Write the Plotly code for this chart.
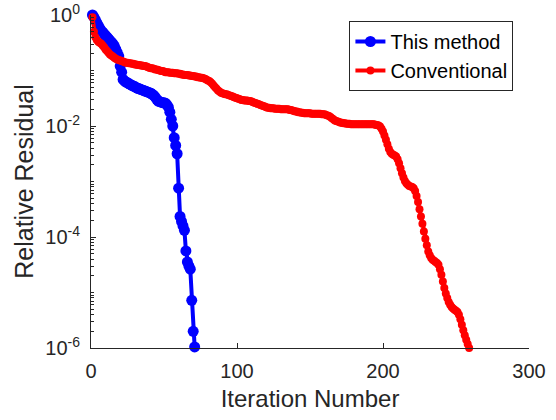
import plotly.graph_objects as go

# Relative residual per iteration as log10 exponents
this_method_log10 = [
    0.00, -0.04, -0.09, -0.14, -0.19, -0.24, -0.28, -0.31, -0.34, -0.37,
    -0.40, -0.43, -0.46, -0.49, -0.52, -0.56, -0.62, -0.68, -0.74, -0.92,
    -1.03, -1.16, -1.19, -1.21, -1.22, -1.24, -1.25, -1.27, -1.28, -1.29,
    -1.31, -1.32, -1.33, -1.34, -1.35, -1.36, -1.37, -1.38, -1.39, -1.40,
    -1.41, -1.43, -1.45, -1.48, -1.52, -1.55, -1.56, -1.57, -1.58, -1.58,
    -1.59, -1.62, -1.66, -1.75, -1.88, -2.00, -2.21, -2.35, -2.50, -3.12,
    -3.63, -3.72, -3.80, -3.88, -4.25, -4.45, -4.52, -4.58, -5.14, -5.70,
    -5.98,
]

conventional_log10 = [
    -0.04, -0.30, -0.40, -0.45, -0.48, -0.50, -0.52, -0.55, -0.58, -0.62,
    -0.65, -0.68, -0.71, -0.73, -0.75, -0.77, -0.79, -0.80, -0.81, -0.82,
    -0.83, -0.84, -0.85, -0.86, -0.86, -0.87, -0.87, -0.88, -0.88, -0.89,
    -0.89, -0.90, -0.90, -0.91, -0.91, -0.92, -0.92, -0.93, -0.94, -0.95,
    -0.96, -0.96, -0.97, -0.98, -0.98, -0.99, -1.00, -1.01, -1.01, -1.02,
    -1.03, -1.03, -1.03, -1.04, -1.04, -1.04, -1.05, -1.05, -1.05, -1.06,
    -1.06, -1.07, -1.07, -1.08, -1.08, -1.08, -1.09, -1.09, -1.10, -1.10,
    -1.11, -1.11, -1.12, -1.12, -1.13, -1.13, -1.14, -1.15, -1.16, -1.18,
    -1.19, -1.21, -1.24, -1.27, -1.30, -1.33, -1.36, -1.38, -1.40, -1.41,
    -1.42, -1.43, -1.43, -1.44, -1.45, -1.46, -1.47, -1.48, -1.49, -1.50,
    -1.51, -1.52, -1.53, -1.53, -1.54, -1.54, -1.54, -1.55, -1.55, -1.56,
    -1.57, -1.58, -1.59, -1.60, -1.61, -1.62, -1.63, -1.64, -1.65, -1.66,
    -1.67, -1.67, -1.68, -1.68, -1.68, -1.69, -1.69, -1.69, -1.69, -1.70,
    -1.70, -1.70, -1.70, -1.70, -1.70, -1.71, -1.71, -1.72, -1.73, -1.74,
    -1.74, -1.75, -1.75, -1.76, -1.76, -1.77, -1.77, -1.77, -1.77, -1.77,
    -1.78, -1.78, -1.78, -1.78, -1.78, -1.78, -1.78, -1.79, -1.79, -1.79,
    -1.80, -1.81, -1.82, -1.84, -1.86, -1.88, -1.90, -1.91, -1.92, -1.93,
    -1.94, -1.94, -1.95, -1.95, -1.96, -1.96, -1.96, -1.97, -1.97, -1.97,
    -1.97, -1.97, -1.97, -1.97, -1.97, -1.97, -1.97, -1.97, -1.97, -1.97,
    -1.97, -1.97, -1.97, -1.97, -1.98, -1.98, -1.99, -2.01, -2.05, -2.10,
    -2.17, -2.25, -2.33, -2.41, -2.47, -2.50, -2.52, -2.53, -2.55, -2.60,
    -2.67, -2.76, -2.85, -2.93, -2.99, -3.03, -3.06, -3.08, -3.09, -3.10,
    -3.12, -3.17, -3.26, -3.37, -3.50, -3.63, -3.76, -3.90, -4.03, -4.15,
    -4.26, -4.33, -4.38, -4.41, -4.43, -4.45, -4.47, -4.50, -4.58, -4.68,
    -4.80, -4.92, -5.02, -5.10, -5.17, -5.22, -5.26, -5.29, -5.31, -5.33,
    -5.35, -5.40, -5.48, -5.58, -5.68, -5.77, -5.85, -5.93, -6.00,
]

this_method_iter = list(range(1, len(this_method_log10) + 1))
conventional_iter = list(range(1, len(conventional_log10) + 1))
this_method_res = [10 ** e for e in this_method_log10]
conventional_res = [10 ** e for e in conventional_log10]

x_ticks = [0, 100, 200, 300]
y_tick_vals = [1, 1e-2, 1e-4, 1e-6]
y_tick_text = ["10<sup>0</sup>", "10<sup>-2</sup>", "10<sup>-4</sup>", "10<sup>-6</sup>"]
y_minor_vals = [m * 10 ** k for k in range(-6, 0) for m in range(1, 10)]

AX = "#262626"
FONT = "Liberation Sans, Arial, Helvetica, sans-serif"

fig = go.Figure()
fig.add_trace(go.Scatter(
    x=this_method_iter, y=this_method_res, name="This method",
    mode="lines+markers", cliponaxis=False,
    line=dict(color="#0000ff", width=4),
    marker=dict(color="#0000ff", size=11),
))
fig.add_trace(go.Scatter(
    x=conventional_iter, y=conventional_res, name="Conventional",
    mode="lines+markers", cliponaxis=False,
    line=dict(color="#ff0000", width=4),
    marker=dict(color="#ff0000", size=8),
))

fig.update_layout(
    width=556, height=420,
    margin=dict(l=91, r=27, t=15, b=72, autoexpand=False),
    paper_bgcolor="white", plot_bgcolor="white",
    font=dict(family=FONT, color=AX, size=20),
    showlegend=True,
    legend=dict(
        x=0.59, y=0.982, xanchor="left", yanchor="top",
        bgcolor="white", bordercolor=AX, borderwidth=1,
        font=dict(family=FONT, size=20, color="black"),
        tracegroupgap=0,
    ),
    xaxis=dict(
        range=[0, 300], tickvals=x_ticks, ticks="inside", ticklen=5,
        tickcolor=AX, showline=True, linecolor=AX, linewidth=1,
        showgrid=False, zeroline=False, mirror=False, automargin=False,
        ticklabelstandoff=5,
        title=dict(text="Iteration Number", font=dict(size=24), standoff=9),
        tickfont=dict(size=20),
    ),
    yaxis=dict(
        type="log", range=[-6, 0], tickvals=y_tick_vals, ticktext=y_tick_text,
        ticks="inside", ticklen=5, tickcolor=AX, showline=True, linecolor=AX,
        linewidth=1, showgrid=False, zeroline=False, mirror=False, automargin=False,
        ticklabelstandoff=6,
        minor=dict(tickvals=y_minor_vals, ticks="inside", ticklen=3, tickcolor=AX, showgrid=False),
        title=dict(text="Relative Residual", font=dict(size=25), standoff=4),
        tickfont=dict(size=20),
    ),
)

fig.write_html("out.html")
